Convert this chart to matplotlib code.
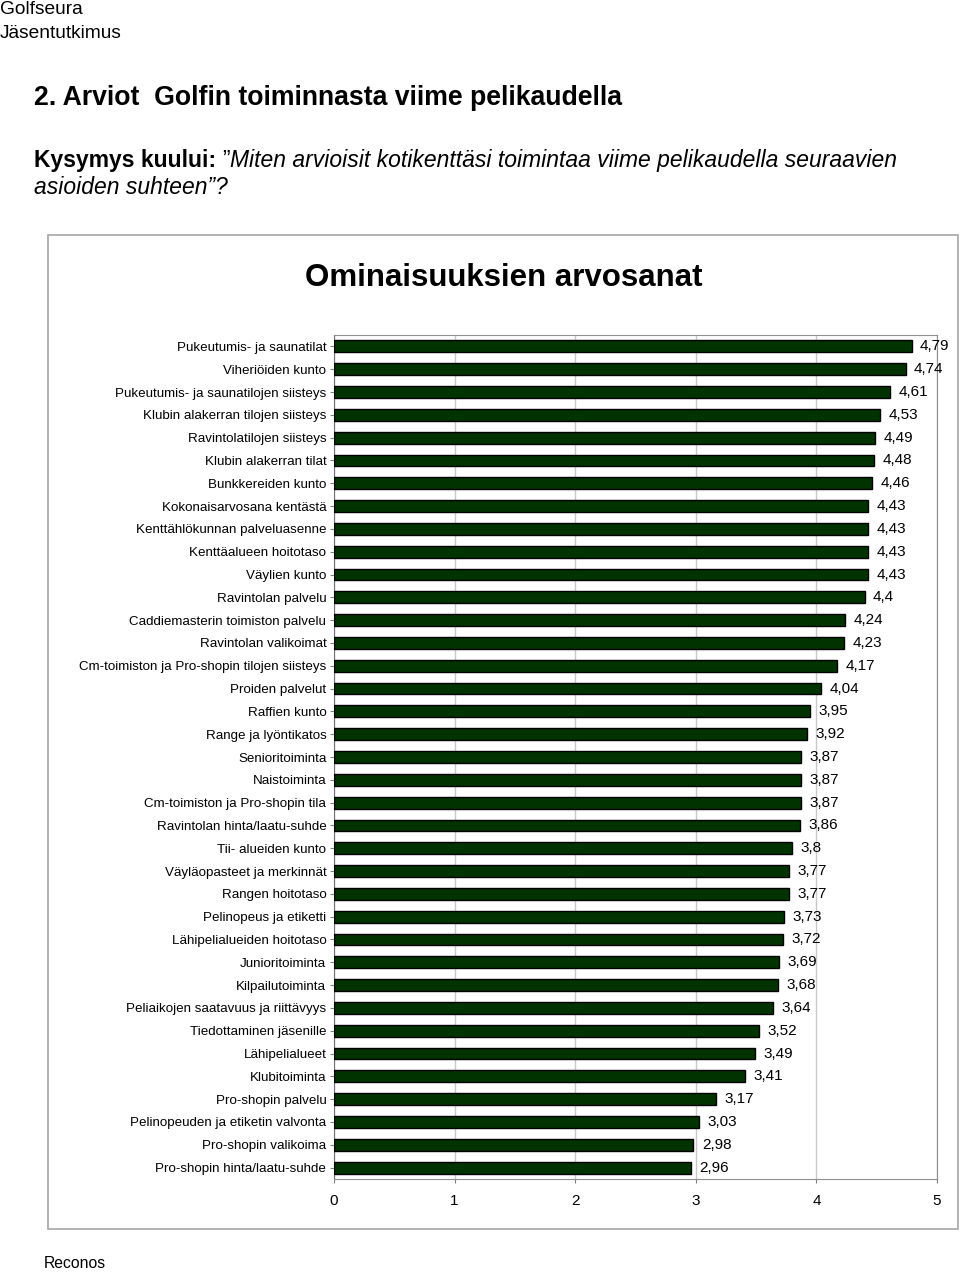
import numpy as np
import matplotlib.pyplot as plt
from matplotlib.patches import Rectangle

plt.rcParams['font.family'] = ['Liberation Sans', 'DejaVu Sans']

labels = ['Pukeutumis- ja saunatilat', 'Viheriöiden kunto',
          'Pukeutumis- ja saunatilojen siisteys', 'Klubin alakerran tilojen siisteys',
          'Ravintolatilojen siisteys', 'Klubin alakerran tilat', 'Bunkkereiden kunto',
          'Kokonaisarvosana kentästä', 'Kenttählökunnan palveluasenne',
          'Kenttäalueen hoitotaso', 'Väylien kunto', 'Ravintolan palvelu',
          'Caddiemasterin toimiston palvelu', 'Ravintolan valikoimat',
          'Cm-toimiston ja Pro-shopin tilojen siisteys', 'Proiden palvelut',
          'Raffien kunto', 'Range ja lyöntikatos', 'Senioritoiminta', 'Naistoiminta',
          'Cm-toimiston ja Pro-shopin tila', 'Ravintolan hinta/laatu-suhde',
          'Tii- alueiden kunto', 'Väyläopasteet ja merkinnät', 'Rangen hoitotaso',
          'Pelinopeus ja etiketti', 'Lähipelialueiden hoitotaso', 'Junioritoiminta',
          'Kilpailutoiminta', 'Peliaikojen saatavuus ja riittävyys',
          'Tiedottaminen jäsenille', 'Lähipelialueet', 'Klubitoiminta',
          'Pro-shopin palvelu', 'Pelinopeuden ja etiketin valvonta',
          'Pro-shopin valikoima', 'Pro-shopin hinta/laatu-suhde']
values = [4.79, 4.74, 4.61, 4.53, 4.49, 4.48, 4.46, 4.43, 4.43, 4.43, 4.43, 4.4,
          4.24, 4.23, 4.17, 4.04, 3.95, 3.92, 3.87, 3.87, 3.87, 3.86, 3.8, 3.77,
          3.77, 3.73, 3.72, 3.69, 3.68, 3.64, 3.52, 3.49, 3.41, 3.17, 3.03, 2.98, 2.96]
xticks = [0, 1, 2, 3, 4, 5]

W, H = 960, 1272
fig = plt.figure(figsize=(W / 100, H / 100), dpi=100)

def fx(px):
    return px / W

def fy(py):
    return 1 - py / H

# header texts
fig.text(fx(0), fy(9), 'Golfseura', fontsize=13.8, va='center')
fig.text(fx(0), fy(33), 'Jäsentutkimus', fontsize=13.8, va='center')
fig.text(fx(34), fy(98), '2. Arviot  Golfin toiminnasta viime pelikaudella',
         fontsize=19.2, fontweight='bold', va='center')

# question line with mixed styles
fig.canvas.draw()
r = fig.canvas.get_renderer()
parts = [('Kysymys kuului: ', dict(fontweight='bold')),
         ('”', {}),
         ('Miten arvioisit kotikenttäsi toimintaa viime pelikaudella seuraavien',
          dict(style='italic'))]
x0 = 34
for s, kw in parts:
    t = fig.text(fx(x0), fy(160), s, fontsize=16.5, va='center', **kw)
    bb = t.get_window_extent(renderer=r)
    x0 += bb.width
fig.text(fx(34), fy(187), 'asioiden suhteen”?', fontsize=16.5, style='italic', va='center')

# outer chart frame
fig.patches.append(Rectangle((fx(48), fy(1229)), fx(958) - fx(48), fy(235) - fy(1229),
                             transform=fig.transFigure, fill=False,
                             edgecolor='#a6a6a6', linewidth=1.2))

fig.text(fx(504), fy(278), 'Ominaisuuksien arvosanat', fontsize=22.5,
         fontweight='bold', ha='center', va='center')

ax = fig.add_axes([fx(334), fy(1179), fx(937) - fx(334), fy(335) - fy(1179)])
y = np.arange(len(labels))
ax.barh(y, values, height=0.52, color='#003300', edgecolor='black', linewidth=1, zorder=3)
for yi, v in zip(y, values):
    ax.text(v + 0.07, yi, ('%g' % v).replace('.', ','), fontsize=11,
            va='center', ha='left', zorder=4)

ax.set_xlim(0, 5)
ax.set_ylim(len(labels) - 0.5, -0.5)
ax.set_xticks(xticks)
ax.set_xticklabels([str(t) for t in xticks], fontsize=11)
ax.set_yticks(y)
ax.set_yticklabels(labels, fontsize=9.6)
ax.tick_params(axis='y', length=3, pad=2.5, color='#808080')
ax.tick_params(axis='x', length=3, pad=8, color='#808080')
ax.xaxis.grid(True, color='#c8c8c8', linewidth=1, zorder=0)
for sp in ax.spines.values():
    sp.set_color('#909090')
ax.spines['left'].set_color('#707070')

fig.text(fx(44), fy(1263), 'Reconos', fontsize=11.3, va='center')

fig.savefig('out.png', dpi=100)
